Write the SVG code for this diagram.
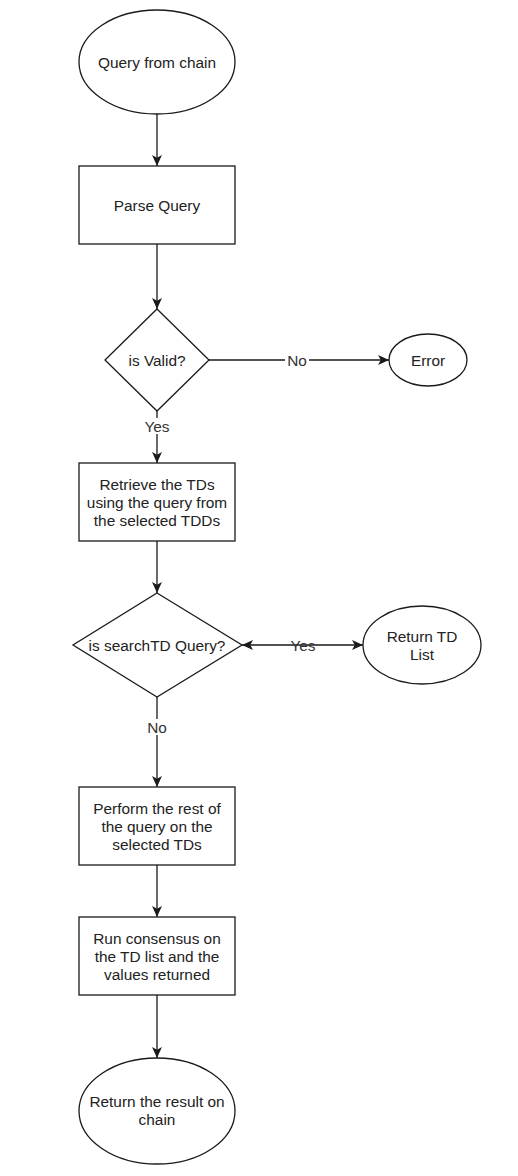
<svg xmlns="http://www.w3.org/2000/svg" width="518" height="1176" viewBox="0 0 518 1176">
  <style>
    .shape { fill: #ffffff; stroke: #1a1a1a; stroke-width: 1.3; }
    .edge { fill: none; stroke: #1a1a1a; stroke-width: 1.3; }
    .txt { font-family: "Liberation Sans", Arial, sans-serif; font-size: 15.4px; fill: #222222; text-anchor: middle; dominant-baseline: central; }
    .lbl { font-family: "Liberation Sans", Arial, sans-serif; font-size: 15.4px; fill: #333333; text-anchor: middle; dominant-baseline: central; }
    .lblbg { fill: #ffffff; stroke: none; }
  </style>
  <defs>
    <marker id="arrow" markerUnits="userSpaceOnUse" viewBox="0 0 10 10" markerWidth="11" markerHeight="11" refX="10" refY="5" orient="auto-start-reverse">
      <path d="M0,0.5 L10,5 L0,9.5 L2.5,5 Z" fill="#1a1a1a"/>
    </marker>
  </defs>
  <rect x="0" y="0" width="518" height="1176" fill="#ffffff"/>

  <g id="connectors">
    <path class="edge" d="M157,114 L157,166" marker-end="url(#arrow)"/>
    <path class="edge" d="M157,244 L157,309" marker-end="url(#arrow)"/>
    <path class="edge" d="M209,360 L389,360" marker-end="url(#arrow)"/>
    <path class="edge" d="M157,411 L157,463" marker-end="url(#arrow)"/>
    <path class="edge" d="M157,541 L157,593" marker-end="url(#arrow)"/>
    <path class="edge" d="M242,645 L363,645" marker-start="url(#arrow)" marker-end="url(#arrow)"/>
    <path class="edge" d="M157,697 L157,787" marker-end="url(#arrow)"/>
    <path class="edge" d="M157,865 L157,917" marker-end="url(#arrow)"/>
    <path class="edge" d="M157,995 L157,1058" marker-end="url(#arrow)"/>
    <g id="edge-labels">
      <rect class="lblbg" x="285" y="352" width="24" height="16"/>
      <text class="lbl" x="297" y="360">No</text>
      <rect class="lblbg" x="144" y="418" width="27" height="16"/>
      <text class="lbl" x="157" y="426">Yes</text>
      <text class="lbl" x="303" y="645">Yes</text>
      <rect class="lblbg" x="145" y="719" width="24" height="16"/>
      <text class="lbl" x="157" y="727">No</text>
    </g>
  </g>

  <g id="start">
    <ellipse class="shape" cx="157" cy="62" rx="78" ry="52"/>
    <text class="txt" x="157" y="62">Query from chain</text>
  </g>

  <g id="parse">
    <rect class="shape" x="79" y="166" width="156" height="78"/>
    <text class="txt" x="157" y="205">Parse Query</text>
  </g>

  <g id="isvalid">
    <polygon class="shape" points="157,309 209,360 157,411 105,360"/>
    <text class="txt" x="157" y="360">is Valid?</text>
  </g>

  <g id="error">
    <ellipse class="shape" cx="428" cy="360" rx="39" ry="26"/>
    <text class="txt" x="428" y="360">Error</text>
  </g>

  <g id="retrieve">
    <rect class="shape" x="79" y="463" width="156" height="78"/>
    <text class="txt" x="157" y="484">Retrieve the TDs</text>
    <text class="txt" x="157" y="502">using the query from</text>
    <text class="txt" x="157" y="520">the selected TDDs</text>
  </g>

  <g id="issearch">
    <polygon class="shape" points="157,593 242,645 157,697 73,645"/>
    <text class="txt" x="157" y="645">is searchTD Query?</text>
  </g>

  <g id="returntd">
    <ellipse class="shape" cx="422" cy="645" rx="59" ry="39"/>
    <text class="txt" x="422" y="636">Return TD</text>
    <text class="txt" x="422" y="654">List</text>
  </g>

  <g id="perform">
    <rect class="shape" x="79" y="787" width="156" height="78"/>
    <text class="txt" x="157" y="808">Perform the rest of</text>
    <text class="txt" x="157" y="826">the query on the</text>
    <text class="txt" x="157" y="844">selected TDs</text>
  </g>

  <g id="consensus">
    <rect class="shape" x="79" y="917" width="156" height="78"/>
    <text class="txt" x="157" y="938">Run consensus on</text>
    <text class="txt" x="157" y="956">the TD list and the</text>
    <text class="txt" x="157" y="974">values returned</text>
  </g>

  <g id="end">
    <ellipse class="shape" cx="157" cy="1111" rx="78" ry="53"/>
    <text class="txt" x="157" y="1101">Return the result on</text>
    <text class="txt" x="157" y="1119">chain</text>
  </g>
</svg>
